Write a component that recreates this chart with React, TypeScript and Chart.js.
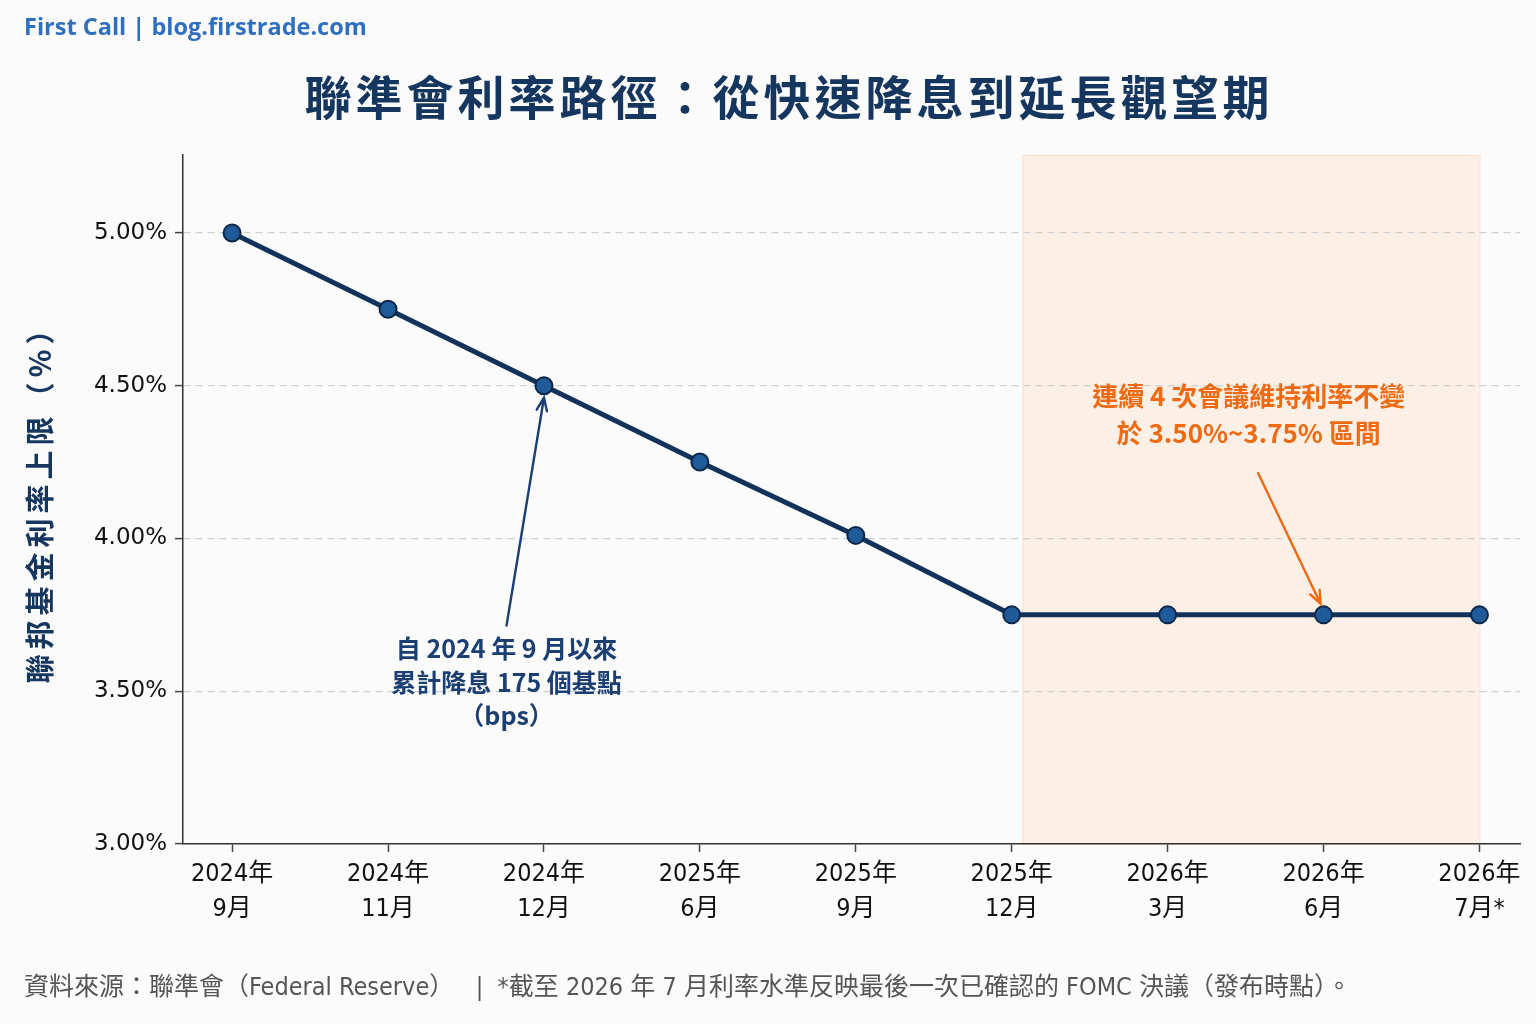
import React, { useEffect, useRef } from "react";
import { Chart, registerables } from "chart.js";

Chart.register(...registerables);

// data
const yearLabels = ["2024年", "2024年", "2024年", "2025年", "2025年", "2025年", "2026年", "2026年", "2026年"];
const monthLabels = ["9月", "11月", "12月", "6月", "9月", "12月", "3月", "6月", "7月*"];
const rateUpper = [5.0, 4.75, 4.5, 4.25, 4.01, 3.75, 3.75, 3.75, 3.75];
const yTickValues = [3.0, 3.5, 4.0, 4.5, 5.0];

// hold period shading (x in category index units)
const holdStart = 5.07;
const holdEnd = 8;

const NAVY = "#15365f";
const ORANGE = "#ef6a12";
const CJK = '"Noto Sans CJK TC", "Noto Sans CJK SC", sans-serif';

const drawArrow = (ctx: CanvasRenderingContext2D, x1: number, y1: number, x2: number, y2: number, color: string) => {
  const a = Math.atan2(y2 - y1, x2 - x1);
  const head = 14;
  ctx.save();
  ctx.strokeStyle = color;
  ctx.lineWidth = 2.4;
  ctx.lineCap = "round";
  ctx.beginPath();
  ctx.moveTo(x1, y1);
  ctx.lineTo(x2, y2);
  ctx.moveTo(x2 - head * Math.cos(a - 0.38), y2 - head * Math.sin(a - 0.38));
  ctx.lineTo(x2, y2);
  ctx.lineTo(x2 - head * Math.cos(a + 0.38), y2 - head * Math.sin(a + 0.38));
  ctx.stroke();
  ctx.restore();
};

const decorPlugin = {
  id: "decor",
  beforeDraw(chart: any) {
    const { ctx, chartArea, scales } = chart;
    ctx.save();
    ctx.fillStyle = "#fbfbfc";
    ctx.fillRect(0, 0, chart.width, chart.height);
    const x1 = scales.x.getPixelForValue(holdStart);
    const x2 = scales.x.getPixelForValue(holdEnd);
    ctx.fillStyle = "rgba(253, 232, 214, 0.6)";
    ctx.fillRect(x1, chartArea.top, x2 - x1, chartArea.bottom - chartArea.top);
    ctx.strokeStyle = "rgba(250, 210, 180, 0.6)";
    ctx.lineWidth = 1;
    ctx.strokeRect(x1 + 0.5, chartArea.top + 0.5, x2 - x1, chartArea.bottom - chartArea.top);
    ctx.restore();
  },
  afterDraw(chart: any) {
    const { ctx, scales } = chart;
    const xs = scales.x;
    const ys = scales.y;
    ctx.save();

    // header
    ctx.fillStyle = "#2f6fc0";
    ctx.font = 'bold 23.5px "Open Sans", ' + CJK;
    ctx.textAlign = "left";
    ctx.textBaseline = "middle";
    ctx.fillText("First Call | blog.firstrade.com", 24, 28);

    // title
    ctx.fillStyle = NAVY;
    ctx.font = "bold 47px " + CJK;
    (ctx as any).letterSpacing = "4px";
    ctx.textAlign = "center";
    ctx.fillText("聯準會利率路徑：從快速降息到延長觀望期", 789, 97);

    // y axis title
    ctx.save();
    ctx.translate(40, 505);
    ctx.rotate(-Math.PI / 2);
    ctx.font = "bold 29px " + CJK;
    (ctx as any).letterSpacing = "5px";
    ctx.fillText("聯邦基金利率上限（%）", 8, 0);
    ctx.restore();
    (ctx as any).letterSpacing = "0px";

    // left annotation
    const lx = xs.getPixelForValue(1.76);
    const ly = ys.getPixelForValue(3.64);
    ctx.fillStyle = "#1b3f73";
    ctx.font = "bold 25px " + CJK;
    ctx.fillText("自 2024 年 9 月以來", lx, ly);
    ctx.fillText("累計降息 175 個基點", lx, ly + 34);
    ctx.fillText("（bps）", lx, ly + 67);
    const p2x = xs.getPixelForValue(2);
    const p2y = ys.getPixelForValue(rateUpper[2]);
    drawArrow(ctx, lx, ly - 23, p2x, p2y + 12, "#1b3f73");

    // right annotation
    const rx = xs.getPixelForValue(6.52);
    const ry = ys.getPixelForValue(4.466);
    ctx.fillStyle = ORANGE;
    ctx.font = "bold 26px " + CJK;
    ctx.fillText("連續 4 次會議維持利率不變", rx, ry);
    ctx.fillText("於 3.50%~3.75% 區間", rx, ry + 37);
    const p7x = xs.getPixelForValue(7);
    const p7y = ys.getPixelForValue(rateUpper[7]);
    drawArrow(ctx, xs.getPixelForValue(6.58), ys.getPixelForValue(4.214), p7x - 3, p7y - 11, ORANGE);

    // footer
    ctx.fillStyle = "#555555";
    ctx.font = '25px "DejaVu Sans Condensed", "DejaVu Sans", ' + CJK;
    ctx.textAlign = "left";
    ctx.fillText(
      "資料來源：聯準會（Federal Reserve）   |  *截至 2026 年 7 月利率水準反映最後一次已確認的 FOMC 決議（發布時點）。",
      24,
      988
    );
    ctx.restore();
  },
};

const App: React.FC = () => {
  const canvasRef = useRef<HTMLCanvasElement | null>(null);
  const chartRef = useRef<Chart | null>(null);

  useEffect(() => {
    if (!canvasRef.current) return;
    const ctx = canvasRef.current.getContext("2d");
    if (!ctx) return;
    if (chartRef.current) chartRef.current.destroy();

    chartRef.current = new Chart(ctx, {
      type: "line",
      data: {
        datasets: [
          {
            label: "聯邦基金利率上限",
            data: rateUpper.map((v, i) => ({ x: i, y: v })),
            borderColor: "#11325a",
            borderWidth: 5,
            pointRadius: 8.5,
            pointBackgroundColor: "#1f5a99",
            pointBorderColor: "#0c2748",
            pointBorderWidth: 2,
            tension: 0,
          },
        ],
      },
      options: {
        responsive: false,
        animation: false,
        devicePixelRatio: 1,
        layout: { padding: { left: 0, top: 155, right: 16, bottom: 0 } },
        plugins: {
          legend: { display: false },
          tooltip: { enabled: false },
        },
        scales: {
          x: {
            type: "linear",
            min: -0.315,
            max: 8.26,
            afterFit: (s: any) => {
              s.height = 180;
            },
            afterBuildTicks: (s: any) => {
              s.ticks = yearLabels.map((_, i) => ({ value: i }));
            },
            grid: {
              drawOnChartArea: false,
              drawTicks: true,
              tickLength: 8,
              tickColor: "#444",
              tickWidth: 1.5,
            },
            border: { color: "#333", width: 1.5 },
            ticks: {
              autoSkip: false,
              maxRotation: 0,
              padding: 5,
              color: "#111",
              font: { family: '"DejaVu Sans Condensed", "DejaVu Sans", ' + CJK, size: 25, lineHeight: 1.4 },
              callback: (v: any) => [yearLabels[v], monthLabels[v]],
            },
          },
          y: {
            min: 3.0,
            max: 5.255,
            afterFit: (s: any) => {
              s.width = 183;
            },
            afterBuildTicks: (s: any) => {
              s.ticks = yTickValues.map((v) => ({ value: v }));
            },
            grid: {
              color: (c: any) => (c.tick && c.tick.value === 3.0 ? "rgba(0,0,0,0)" : "#cfcfcf"),
              tickBorderDash: [],
              tickLength: 8,
              tickColor: "#444",
              tickWidth: 1.5,
              lineWidth: 1.2,
            },
            border: { color: "#333", width: 1.5, dash: [7, 5] },
            ticks: {
              padding: 8,
              color: "#111",
              font: { family: '"DejaVu Sans", ' + CJK, size: 23 },
              callback: (v: any) => Number(v).toFixed(2) + "%",
            },
          },
        },
      },
      plugins: [decorPlugin],
    });

    return () => {
      if (chartRef.current) {
        chartRef.current.destroy();
        chartRef.current = null;
      }
    };
  }, []);

  return (
    <div style={{ position: "absolute", left: 0, top: 0, width: 1536, height: 1024 }}>
      <canvas ref={canvasRef} width={1536} height={1024} style={{ width: 1536, height: 1024 }} />
    </div>
  );
};

export default App;
